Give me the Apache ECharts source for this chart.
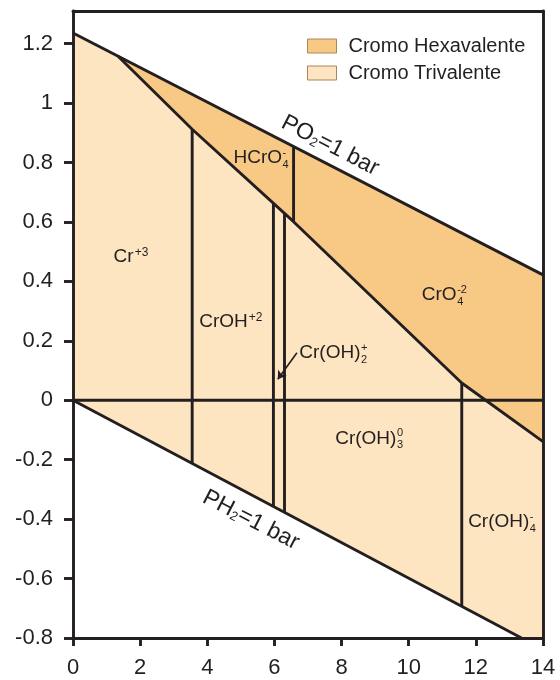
<!DOCTYPE html>
<html>
<head>
<meta charset="utf-8">
<script src="https://cdn.jsdelivr.net/npm/echarts@6/dist/echarts.min.js"></script>
<style>
  html, body { margin: 0; padding: 0; background: #ffffff; }
  #chart { width: 560px; height: 680px; }
</style>
</head>
<body>
<div id="chart"></div>
<script>
const FONT = '"Liberation Sans", Arial, Helvetica, sans-serif';
const INK = '#231f20';
const HEX_COLOR = '#f7c985';
const TRI_COLOR = '#fde5c1';
const SWATCH_BORDER = '#a8865a';

// axis ticks (pH, Eh in volts)
const xTicks = [0, 2, 4, 6, 8, 10, 12, 14];
const yTicks = [-0.8, -0.6, -0.4, -0.2, 0, 0.2, 0.4, 0.6, 0.8, 1, 1.2];

// water stability limits
const o2Line = [[0, 1.236], [14, 0.422]];
const h2Line = [[0, 0], [13.36, -0.8]];
// Cr(VI) / Cr(III) boundary
const redoxLine = [[1.35, 1.157], [3.55, 0.912], [6.57, 0.601], [11.58, 0.058], [14, -0.139]];
const zeroLine = [[0, 0], [14, 0]];
// vertical acid-base boundaries between species
const boundaries = [
  [[3.55, 0.912], [3.55, -0.213]],
  [[5.97, 0.663], [5.97, -0.358]],
  [[6.30, 0.629], [6.30, -0.377]],
  [[6.57, 0.854], [6.57, 0.601]],
  [[11.58, 0.058], [11.58, -0.694]]
];

// stability fields
const hexRegion = [[1.35, 1.157], [14, 0.422], [14, -0.139], [11.58, 0.058], [6.57, 0.601], [3.55, 0.912]];
const triRegion = [[0, 1.236], [1.35, 1.157], [3.55, 0.912], [6.57, 0.601], [11.58, 0.058],
                   [14, -0.139], [14, -0.8], [13.36, -0.8], [0, 0]];

// species names: anchor = left edge / cap middle
const species = [
  { pos: [1.21, 0.483],   base: 'Cr',     sup: '+3' },
  { pos: [3.76, 0.264],   base: 'CrOH',   sup: '+2' },
  { pos: [4.78, 0.815],   base: 'HCrO',   sup: '-',  sub: '4' },
  { pos: [10.39, 0.355],  base: 'CrO',    sup: '-2', sub: '4' },
  { pos: [6.74, 0.159],   base: 'Cr(OH)', sup: '+',  sub: '2' },
  { pos: [7.81, -0.128],  base: 'Cr(OH)', sup: '0',  sub: '3' },
  { pos: [11.77, -0.408], base: 'Cr(OH)', sup: '-',  sub: '4' }
];

// gas pressure captions along the water lines (anchor = text centre)
const gasLabels = [
  { pos: [7.66, 0.857],  pre: 'PO', sub: '2', post: '=1 bar' },
  { pos: [5.30, -0.403], pre: 'PH', sub: '2', post: '=1 bar' }
];

const pointer = [[6.67, 0.160], [6.10, 0.071]];

const chart = echarts.init(document.getElementById('chart'), null, { renderer: 'canvas' });

function polygonSeries(name, pts, color) {
  return {
    name: name,
    type: 'custom',
    coordinateSystem: 'cartesian2d',
    z: 1,
    silent: true,
    itemStyle: { color: color },
    data: [pts[0]],
    renderItem: function (params, api) {
      return {
        type: 'polygon',
        shape: { points: pts.map(function (p) { return api.coord(p); }) },
        style: { fill: color, stroke: null }
      };
    }
  };
}

const LINE_W = 2.9;

function lineSeries(name, pts) {
  return {
    name: name,
    type: 'line',
    data: pts,
    symbol: 'none',
    silent: true,
    z: 5,
    lineStyle: { color: INK, width: LINE_W }
  };
}

const axisLineStyle = { color: INK, width: LINE_W };

const series = [
  polygonSeries('Cromo Trivalente', triRegion, TRI_COLOR),
  polygonSeries('Cromo Hexavalente', hexRegion, HEX_COLOR),
  lineSeries('o2', o2Line),
  lineSeries('h2', h2Line),
  lineSeries('redox', redoxLine),
  lineSeries('zero', zeroLine)
];
boundaries.forEach(function (b, i) { series.push(lineSeries('b' + i, b)); });
series.push({
  type: 'lines',
  coordinateSystem: 'cartesian2d',
  silent: true,
  z: 6,
  symbol: ['none', 'arrow'],
  symbolSize: 8,
  lineStyle: { color: INK, width: 1.6, opacity: 1 },
  data: [{ coords: pointer }]
});

chart.setOption({
  animation: false,
  backgroundColor: '#ffffff',
  grid: { left: 73, right: 17, top: 11, bottom: 42 },
  legend: {
    orient: 'vertical',
    left: 307,
    top: 36,
    padding: 0,
    itemWidth: 29,
    itemHeight: 14,
    itemGap: 7,
    selectedMode: false,
    textStyle: { fontFamily: FONT, fontSize: 20, color: INK, lineHeight: 20, padding: [0, 0, 0, 7] },
    data: [
      { name: 'Cromo Hexavalente', icon: 'rect', itemStyle: { color: HEX_COLOR, borderColor: SWATCH_BORDER, borderWidth: 1 } },
      { name: 'Cromo Trivalente', icon: 'rect', itemStyle: { color: TRI_COLOR, borderColor: SWATCH_BORDER, borderWidth: 1 } }
    ]
  },
  xAxis: [
    {
      type: 'value', min: xTicks[0], max: xTicks[xTicks.length - 1], interval: 2,
      z: 10,
      axisLine: { show: true, onZero: false, lineStyle: axisLineStyle },
      axisTick: { show: true, length: 8, lineStyle: axisLineStyle },
      axisLabel: { margin: 19, fontSize: 22, color: INK, fontFamily: FONT },
      splitLine: { show: false }
    },
    {
      type: 'value', position: 'top', min: 0, max: 14, z: 10,
      axisLine: { show: true, onZero: false, lineStyle: axisLineStyle },
      axisTick: { show: false }, axisLabel: { show: false }, splitLine: { show: false }
    }
  ],
  yAxis: [
    {
      type: 'value', min: -0.8, max: 1.31,
      z: 10,
      axisLine: { show: true, onZero: false, lineStyle: axisLineStyle },
      axisTick: { show: true, length: 9, lineStyle: axisLineStyle, customValues: yTicks },
      axisLabel: { margin: 20, fontSize: 22, color: INK, fontFamily: FONT, customValues: yTicks },
      splitLine: { show: false }
    },
    {
      type: 'value', position: 'right', min: -0.8, max: 1.31, z: 10,
      axisLine: { show: true, onZero: false, lineStyle: axisLineStyle },
      axisTick: { show: false }, axisLabel: { show: false }, splitLine: { show: false }
    }
  ],
  series: series
});

// text annotations with stacked super/subscripts
const measureCtx = document.createElement('canvas').getContext('2d');
function textWidth(str, size) {
  measureCtx.font = size + 'px ' + FONT;
  return measureCtx.measureText(str).width;
}
function txt(str, x, y, size) {
  return {
    type: 'text', x: x, y: y, z: 100,
    style: { text: str, fontSize: size, fontFamily: FONT, fill: INK, align: 'left', verticalAlign: 'middle' }
  };
}

const graphics = [];
const BASE = 19, SCRIPT = 11;
species.forEach(function (s) {
  const p = chart.convertToPixel({ gridIndex: 0 }, s.pos);
  const w = textWidth(s.base, BASE) + 0.5;
  const children = [txt(s.base, 0, 0, BASE)];
  if (s.sub) {
    children.push(txt(s.sup, w, -5, SCRIPT));
    children.push(txt(s.sub, w, 7, SCRIPT));
  } else {
    children.push(txt(s.sup, w + 0.5, -4.5, SCRIPT + 1));
  }
  graphics.push({ type: 'group', x: p[0], y: p[1], z: 100, silent: true, children: children });
});

const GAS = 23, GAS_SUB = 13;
gasLabels.forEach(function (g) {
  const p = chart.convertToPixel({ gridIndex: 0 }, g.pos);
  const w1 = textWidth(g.pre, GAS);
  const w2 = textWidth(g.sub, GAS_SUB);
  const w3 = textWidth(g.post, GAS);
  const total = w1 + w2 + w3;
  const x0 = -total / 2;
  graphics.push({
    type: 'group', x: p[0], y: p[1], rotation: -27.2 * Math.PI / 180, z: 100, silent: true,
    children: [
      txt(g.pre, x0, 0, GAS),
      txt(g.sub, x0 + w1, 5, GAS_SUB),
      txt(g.post, x0 + w1 + w2, 0, GAS)
    ]
  });
});

chart.setOption({ graphic: graphics });
</script>
</body>
</html>
